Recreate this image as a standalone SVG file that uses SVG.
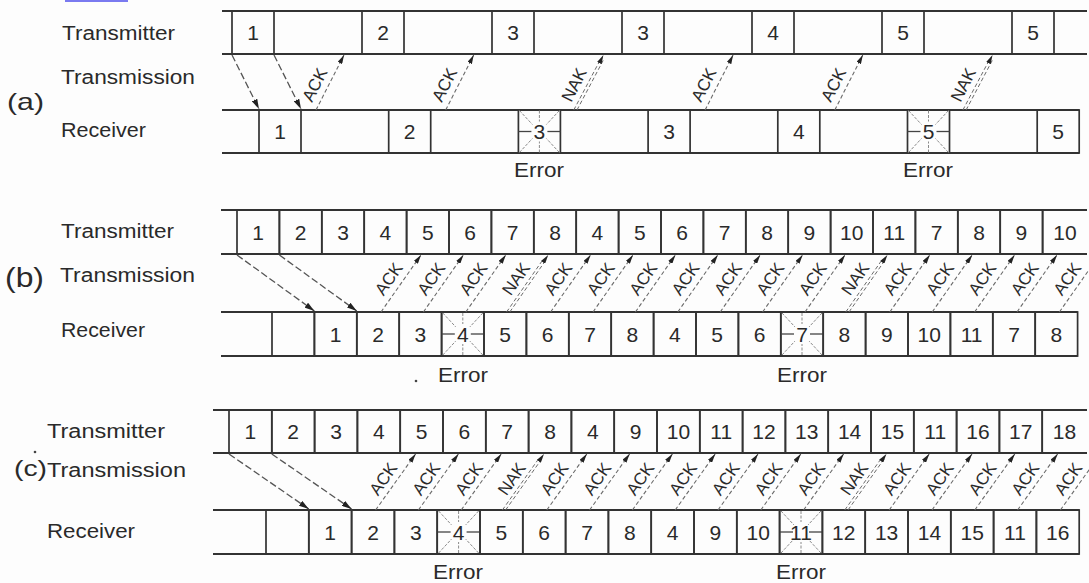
<svg xmlns="http://www.w3.org/2000/svg" xmlns:xlink="http://www.w3.org/1999/xlink" width="1089" height="583" viewBox="0 0 1089 583">
<style>
.ln{stroke:#333;stroke-width:2;fill:none}
.cell{stroke:#333;stroke-width:1.7;fill:none}
.num{font-family:"Liberation Sans",Arial,sans-serif;font-size:21px;fill:#2a2a2a;text-anchor:middle}
.lbl{font-family:"Liberation Sans",Arial,sans-serif;font-size:20px;fill:#2a2a2a}
.err{font-family:"Liberation Sans",Arial,sans-serif;font-size:20px;fill:#2a2a2a;text-anchor:middle}
.at{font-family:"Liberation Sans",Arial,sans-serif;font-size:17px;fill:#2a2a2a;text-anchor:middle;dominant-baseline:central}
.data{stroke:#555;stroke-width:1.3;stroke-dasharray:7 3;fill:none;marker-end:url(#ah)}
.ack{stroke:#6a6a6a;stroke-width:1.1;stroke-dasharray:4 2.5;fill:none;marker-end:url(#ah2)}
.nak{stroke:#6a6a6a;stroke-width:1;stroke-dasharray:4 2.5;fill:none}
.tip{stroke:none;fill:none;marker-end:url(#ah2)}
.ray{stroke:#8a8a8a;stroke-width:1;stroke-dasharray:3 1.5}
.rayd{stroke:#444;stroke-width:1.3}
</style>
<defs>
<marker id="ah" viewBox="0 0 10 6" refX="10" refY="3" markerWidth="10" markerHeight="6" markerUnits="userSpaceOnUse" orient="auto"><path d="M0,0 L10,3 L0,6 z" fill="#222"/></marker>
<marker id="ah2" viewBox="0 0 9 5" refX="9" refY="2.5" markerWidth="9" markerHeight="5" markerUnits="userSpaceOnUse" orient="auto"><path d="M0,0 L9,2.5 L0,5 z" fill="#222"/></marker>
<g id="rays">
<line class="ray" x1="-20" y1="-21" x2="-7" y2="-7"/>
<line class="ray" x1="20" y1="-21" x2="7" y2="-7"/>
<line class="ray" x1="-20" y1="21" x2="-7" y2="7"/>
<line class="ray" x1="20" y1="21" x2="7" y2="7"/>
<line class="ray" x1="0" y1="-21" x2="0" y2="-10"/>
<line class="ray" x1="0" y1="21" x2="0" y2="10"/>
<line class="rayd" x1="-21" y1="0" x2="-8" y2="0"/>
<line class="rayd" x1="21" y1="0" x2="8" y2="0"/>
</g>
</defs>
<rect width="1089" height="583" fill="#fdfdfd"/>
<rect x="65" y="0" width="63" height="2" fill="#7a7af0"/>
<circle cx="416" cy="381" r="1.3" fill="#444"/>
<circle cx="35" cy="452" r="1.3" fill="#444"/>

<g id="labels">
<text class="lbl" x="62" y="40" textLength="113" lengthAdjust="spacingAndGlyphs">Transmitter</text>
<text class="lbl" x="61" y="84" textLength="134" lengthAdjust="spacingAndGlyphs">Transmission</text>
<text class="lbl" x="7" y="110" style="font-size:24px" textLength="37" lengthAdjust="spacingAndGlyphs">(a)</text>
<text class="lbl" x="61" y="137" textLength="85" lengthAdjust="spacingAndGlyphs">Receiver</text>
<text class="lbl" x="61" y="238" textLength="113" lengthAdjust="spacingAndGlyphs">Transmitter</text>
<text class="lbl" x="5" y="287" style="font-size:27px" textLength="39" lengthAdjust="spacingAndGlyphs">(b)</text>
<text class="lbl" x="60" y="282" textLength="135" lengthAdjust="spacingAndGlyphs">Transmission</text>
<text class="lbl" x="61" y="337" textLength="84" lengthAdjust="spacingAndGlyphs">Receiver</text>
<text class="lbl" x="47" y="438" textLength="118" lengthAdjust="spacingAndGlyphs">Transmitter</text>
<text class="lbl" x="14" y="476" style="font-size:22px" textLength="33" lengthAdjust="spacingAndGlyphs">(c)</text>
<text class="lbl" x="47" y="477" textLength="139" lengthAdjust="spacingAndGlyphs">Transmission</text>
<text class="lbl" x="47" y="538" textLength="88" lengthAdjust="spacingAndGlyphs">Receiver</text>
<text class="err" x="539" y="177" textLength="50" lengthAdjust="spacingAndGlyphs">Error</text>
<text class="err" x="928" y="177" textLength="50" lengthAdjust="spacingAndGlyphs">Error</text>
<text class="err" x="463" y="382" textLength="50" lengthAdjust="spacingAndGlyphs">Error</text>
<text class="err" x="802" y="382" textLength="50" lengthAdjust="spacingAndGlyphs">Error</text>
<text class="err" x="458" y="579" textLength="50" lengthAdjust="spacingAndGlyphs">Error</text>
<text class="err" x="801" y="579" textLength="50" lengthAdjust="spacingAndGlyphs">Error</text>
</g>

<g id="a-tx">
<line class="ln" x1="222" y1="11" x2="1087" y2="11"/>
<line class="ln" x1="222" y1="54" x2="1087" y2="54"/>
<g id="a-tx-1"><rect class="cell" x="232" y="11" width="42" height="43"/><text class="num" x="253" y="40">1</text></g>
<g id="a-tx-2"><rect class="cell" x="362" y="11" width="42" height="43"/><text class="num" x="383" y="40">2</text></g>
<g id="a-tx-3"><rect class="cell" x="492" y="11" width="42" height="43"/><text class="num" x="513" y="40">3</text></g>
<g id="a-tx-4"><rect class="cell" x="622" y="11" width="42" height="43"/><text class="num" x="643" y="40">3</text></g>
<g id="a-tx-5"><rect class="cell" x="752" y="11" width="42" height="43"/><text class="num" x="773" y="40">4</text></g>
<g id="a-tx-6"><rect class="cell" x="882" y="11" width="42" height="43"/><text class="num" x="903" y="40">5</text></g>
<g id="a-tx-7"><rect class="cell" x="1012" y="11" width="42" height="43"/><text class="num" x="1033" y="40">5</text></g>
</g>
<g id="a-rx">
<line class="ln" x1="222" y1="110" x2="1079" y2="110"/>
<line class="ln" x1="222" y1="153" x2="1079" y2="153"/>
<g id="a-rx-1"><rect class="cell" x="259" y="110" width="42" height="43"/><text class="num" x="280" y="139">1</text></g>
<g id="a-rx-2"><rect class="cell" x="388.7" y="110" width="42" height="43"/><text class="num" x="409.7" y="139">2</text></g>
<g id="a-rx-3"><rect class="cell" x="518.4" y="110" width="42" height="43"/><use xlink:href="#rays" transform="translate(539.4,131.5)"/><text class="num" x="539.4" y="139">3</text></g>
<g id="a-rx-4"><rect class="cell" x="648.1" y="110" width="42" height="43"/><text class="num" x="669.1" y="139">3</text></g>
<g id="a-rx-5"><rect class="cell" x="777.8" y="110" width="42" height="43"/><text class="num" x="798.8" y="139">4</text></g>
<g id="a-rx-6"><rect class="cell" x="907.5" y="110" width="42" height="43"/><use xlink:href="#rays" transform="translate(928.5,131.5)"/><text class="num" x="928.5" y="139">5</text></g>
<g id="a-rx-7"><rect class="cell" x="1037.2" y="110" width="42" height="43"/><text class="num" x="1058.2" y="139">5</text></g>
</g>

<g id="b-tx">
<line class="ln" x1="221" y1="210" x2="1087" y2="210"/>
<line class="ln" x1="221" y1="254" x2="1087" y2="254"/>
<g id="b-tx-1"><rect class="cell" x="237" y="210" width="42.4" height="44"/><text class="num" x="258.2" y="239.5">1</text></g>
<g id="b-tx-2"><rect class="cell" x="279.4" y="210" width="42.4" height="44"/><text class="num" x="300.6" y="239.5">2</text></g>
<g id="b-tx-3"><rect class="cell" x="321.8" y="210" width="42.4" height="44"/><text class="num" x="343" y="239.5">3</text></g>
<g id="b-tx-4"><rect class="cell" x="364.2" y="210" width="42.4" height="44"/><text class="num" x="385.4" y="239.5">4</text></g>
<g id="b-tx-5"><rect class="cell" x="406.6" y="210" width="42.4" height="44"/><text class="num" x="427.8" y="239.5">5</text></g>
<g id="b-tx-6"><rect class="cell" x="449" y="210" width="42.4" height="44"/><text class="num" x="470.2" y="239.5">6</text></g>
<g id="b-tx-7"><rect class="cell" x="491.4" y="210" width="42.4" height="44"/><text class="num" x="512.6" y="239.5">7</text></g>
<g id="b-tx-8"><rect class="cell" x="533.8" y="210" width="42.4" height="44"/><text class="num" x="555" y="239.5">8</text></g>
<g id="b-tx-9"><rect class="cell" x="576.2" y="210" width="42.4" height="44"/><text class="num" x="597.4" y="239.5">4</text></g>
<g id="b-tx-10"><rect class="cell" x="618.6" y="210" width="42.4" height="44"/><text class="num" x="639.8" y="239.5">5</text></g>
<g id="b-tx-11"><rect class="cell" x="661" y="210" width="42.4" height="44"/><text class="num" x="682.2" y="239.5">6</text></g>
<g id="b-tx-12"><rect class="cell" x="703.4" y="210" width="42.4" height="44"/><text class="num" x="724.6" y="239.5">7</text></g>
<g id="b-tx-13"><rect class="cell" x="745.8" y="210" width="42.4" height="44"/><text class="num" x="767" y="239.5">8</text></g>
<g id="b-tx-14"><rect class="cell" x="788.2" y="210" width="42.4" height="44"/><text class="num" x="809.4" y="239.5">9</text></g>
<g id="b-tx-15"><rect class="cell" x="830.6" y="210" width="42.4" height="44"/><text class="num" x="851.8" y="239.5">10</text></g>
<g id="b-tx-16"><rect class="cell" x="873" y="210" width="42.4" height="44"/><text class="num" x="894.2" y="239.5">11</text></g>
<g id="b-tx-17"><rect class="cell" x="915.4" y="210" width="42.4" height="44"/><text class="num" x="936.6" y="239.5">7</text></g>
<g id="b-tx-18"><rect class="cell" x="957.8" y="210" width="42.4" height="44"/><text class="num" x="979" y="239.5">8</text></g>
<g id="b-tx-19"><rect class="cell" x="1000.2" y="210" width="42.4" height="44"/><text class="num" x="1021.4" y="239.5">9</text></g>
<g id="b-tx-20"><line class="cell" x1="1042.6" y1="210" x2="1042.6" y2="254"/><text class="num" x="1065" y="239.5">10</text></g>
</g>
<g id="b-rx">
<line class="ln" x1="221" y1="312" x2="1077.6" y2="312"/>
<line class="ln" x1="221" y1="356" x2="1077.6" y2="356"/>
<g id="b-rx-0"><rect class="cell" x="272" y="312" width="42.4" height="44"/></g>
<g id="b-rx-1"><rect class="cell" x="314.4" y="312" width="42.4" height="44"/><text class="num" x="335.6" y="341.5">1</text></g>
<g id="b-rx-2"><rect class="cell" x="356.8" y="312" width="42.4" height="44"/><text class="num" x="378" y="341.5">2</text></g>
<g id="b-rx-3"><rect class="cell" x="399.2" y="312" width="42.4" height="44"/><text class="num" x="420.4" y="341.5">3</text></g>
<g id="b-rx-4"><rect class="cell" x="441.6" y="312" width="42.4" height="44"/><use xlink:href="#rays" transform="translate(462.8,334)"/><text class="num" x="462.8" y="341.5">4</text></g>
<g id="b-rx-5"><rect class="cell" x="484" y="312" width="42.4" height="44"/><text class="num" x="505.2" y="341.5">5</text></g>
<g id="b-rx-6"><rect class="cell" x="526.4" y="312" width="42.4" height="44"/><text class="num" x="547.6" y="341.5">6</text></g>
<g id="b-rx-7"><rect class="cell" x="568.8" y="312" width="42.4" height="44"/><text class="num" x="590" y="341.5">7</text></g>
<g id="b-rx-8"><rect class="cell" x="611.2" y="312" width="42.4" height="44"/><text class="num" x="632.4" y="341.5">8</text></g>
<g id="b-rx-9"><rect class="cell" x="653.6" y="312" width="42.4" height="44"/><text class="num" x="674.8" y="341.5">4</text></g>
<g id="b-rx-10"><rect class="cell" x="696" y="312" width="42.4" height="44"/><text class="num" x="717.2" y="341.5">5</text></g>
<g id="b-rx-11"><rect class="cell" x="738.4" y="312" width="42.4" height="44"/><text class="num" x="759.6" y="341.5">6</text></g>
<g id="b-rx-12"><rect class="cell" x="780.8" y="312" width="42.4" height="44"/><use xlink:href="#rays" transform="translate(802,334)"/><text class="num" x="802" y="341.5">7</text></g>
<g id="b-rx-13"><rect class="cell" x="823.2" y="312" width="42.4" height="44"/><text class="num" x="844.4" y="341.5">8</text></g>
<g id="b-rx-14"><rect class="cell" x="865.6" y="312" width="42.4" height="44"/><text class="num" x="886.8" y="341.5">9</text></g>
<g id="b-rx-15"><rect class="cell" x="908" y="312" width="42.4" height="44"/><text class="num" x="929.2" y="341.5">10</text></g>
<g id="b-rx-16"><rect class="cell" x="950.4" y="312" width="42.4" height="44"/><text class="num" x="971.6" y="341.5">11</text></g>
<g id="b-rx-17"><rect class="cell" x="992.8" y="312" width="42.4" height="44"/><text class="num" x="1014" y="341.5">7</text></g>
<g id="b-rx-18"><rect class="cell" x="1035.2" y="312" width="42.4" height="44"/><text class="num" x="1056.4" y="341.5">8</text></g>
</g>

<g id="c-tx">
<line class="ln" x1="213" y1="410" x2="1087" y2="410"/>
<line class="ln" x1="213" y1="453" x2="1087" y2="453"/>
<g id="c-tx-1"><rect class="cell" x="229" y="410" width="42.8" height="43"/><text class="num" x="250.4" y="439">1</text></g>
<g id="c-tx-2"><rect class="cell" x="271.8" y="410" width="42.8" height="43"/><text class="num" x="293.2" y="439">2</text></g>
<g id="c-tx-3"><rect class="cell" x="314.6" y="410" width="42.8" height="43"/><text class="num" x="336" y="439">3</text></g>
<g id="c-tx-4"><rect class="cell" x="357.4" y="410" width="42.8" height="43"/><text class="num" x="378.8" y="439">4</text></g>
<g id="c-tx-5"><rect class="cell" x="400.2" y="410" width="42.8" height="43"/><text class="num" x="421.6" y="439">5</text></g>
<g id="c-tx-6"><rect class="cell" x="443" y="410" width="42.8" height="43"/><text class="num" x="464.4" y="439">6</text></g>
<g id="c-tx-7"><rect class="cell" x="485.8" y="410" width="42.8" height="43"/><text class="num" x="507.2" y="439">7</text></g>
<g id="c-tx-8"><rect class="cell" x="528.6" y="410" width="42.8" height="43"/><text class="num" x="550" y="439">8</text></g>
<g id="c-tx-9"><rect class="cell" x="571.4" y="410" width="42.8" height="43"/><text class="num" x="592.8" y="439">4</text></g>
<g id="c-tx-10"><rect class="cell" x="614.2" y="410" width="42.8" height="43"/><text class="num" x="635.6" y="439">9</text></g>
<g id="c-tx-11"><rect class="cell" x="657" y="410" width="42.8" height="43"/><text class="num" x="678.4" y="439">10</text></g>
<g id="c-tx-12"><rect class="cell" x="699.8" y="410" width="42.8" height="43"/><text class="num" x="721.2" y="439">11</text></g>
<g id="c-tx-13"><rect class="cell" x="742.6" y="410" width="42.8" height="43"/><text class="num" x="764" y="439">12</text></g>
<g id="c-tx-14"><rect class="cell" x="785.4" y="410" width="42.8" height="43"/><text class="num" x="806.8" y="439">13</text></g>
<g id="c-tx-15"><rect class="cell" x="828.2" y="410" width="42.8" height="43"/><text class="num" x="849.6" y="439">14</text></g>
<g id="c-tx-16"><rect class="cell" x="871" y="410" width="42.8" height="43"/><text class="num" x="892.4" y="439">15</text></g>
<g id="c-tx-17"><rect class="cell" x="913.8" y="410" width="42.8" height="43"/><text class="num" x="935.2" y="439">11</text></g>
<g id="c-tx-18"><rect class="cell" x="956.6" y="410" width="42.8" height="43"/><text class="num" x="978" y="439">16</text></g>
<g id="c-tx-19"><rect class="cell" x="999.4" y="410" width="42.8" height="43"/><text class="num" x="1020.8" y="439">17</text></g>
<g id="c-tx-20"><line class="cell" x1="1042.2" y1="410" x2="1042.2" y2="453"/><text class="num" x="1064.5" y="439">18</text></g>
</g>
<g id="c-rx">
<line class="ln" x1="213" y1="510" x2="1079.2" y2="510"/>
<line class="ln" x1="213" y1="554" x2="1079.2" y2="554"/>
<g id="c-rx-0"><rect class="cell" x="266" y="510" width="42.8" height="44"/></g>
<g id="c-rx-1"><rect class="cell" x="308.8" y="510" width="42.8" height="44"/><text class="num" x="330.2" y="539.5">1</text></g>
<g id="c-rx-2"><rect class="cell" x="351.6" y="510" width="42.8" height="44"/><text class="num" x="373" y="539.5">2</text></g>
<g id="c-rx-3"><rect class="cell" x="394.4" y="510" width="42.8" height="44"/><text class="num" x="415.8" y="539.5">3</text></g>
<g id="c-rx-4"><rect class="cell" x="437.2" y="510" width="42.8" height="44"/><use xlink:href="#rays" transform="translate(458.6,532)"/><text class="num" x="458.6" y="539.5">4</text></g>
<g id="c-rx-5"><rect class="cell" x="480" y="510" width="42.8" height="44"/><text class="num" x="501.4" y="539.5">5</text></g>
<g id="c-rx-6"><rect class="cell" x="522.8" y="510" width="42.8" height="44"/><text class="num" x="544.2" y="539.5">6</text></g>
<g id="c-rx-7"><rect class="cell" x="565.6" y="510" width="42.8" height="44"/><text class="num" x="587" y="539.5">7</text></g>
<g id="c-rx-8"><rect class="cell" x="608.4" y="510" width="42.8" height="44"/><text class="num" x="629.8" y="539.5">8</text></g>
<g id="c-rx-9"><rect class="cell" x="651.2" y="510" width="42.8" height="44"/><text class="num" x="672.6" y="539.5">4</text></g>
<g id="c-rx-10"><rect class="cell" x="694" y="510" width="42.8" height="44"/><text class="num" x="715.4" y="539.5">9</text></g>
<g id="c-rx-11"><rect class="cell" x="736.8" y="510" width="42.8" height="44"/><text class="num" x="758.2" y="539.5">10</text></g>
<g id="c-rx-12"><rect class="cell" x="779.6" y="510" width="42.8" height="44"/><use xlink:href="#rays" transform="translate(801,532)"/><text class="num" x="801" y="539.5">11</text></g>
<g id="c-rx-13"><rect class="cell" x="822.4" y="510" width="42.8" height="44"/><text class="num" x="843.8" y="539.5">12</text></g>
<g id="c-rx-14"><rect class="cell" x="865.2" y="510" width="42.8" height="44"/><text class="num" x="886.6" y="539.5">13</text></g>
<g id="c-rx-15"><rect class="cell" x="908" y="510" width="42.8" height="44"/><text class="num" x="929.4" y="539.5">14</text></g>
<g id="c-rx-16"><rect class="cell" x="950.8" y="510" width="42.8" height="44"/><text class="num" x="972.2" y="539.5">15</text></g>
<g id="c-rx-17"><rect class="cell" x="993.6" y="510" width="42.8" height="44"/><text class="num" x="1015" y="539.5">11</text></g>
<g id="c-rx-18"><rect class="cell" x="1036.4" y="510" width="42.8" height="44"/><text class="num" x="1057.8" y="539.5">16</text></g>
</g>

<g id="connectors">
<line class="data" x1="232" y1="55" x2="259" y2="109"/>
<line class="data" x1="274" y1="55" x2="301" y2="109"/>
<line class="data" x1="237" y1="255" x2="314.4" y2="311"/>
<line class="data" x1="279.4" y1="255" x2="356.8" y2="311"/>
<line class="data" x1="229" y1="454" x2="308.8" y2="509"/>
<line class="data" x1="271.8" y1="454" x2="351.6" y2="509"/>

<line class="ack" x1="316" y1="110" x2="344" y2="55"/><text class="at" transform="translate(315,85) rotate(-63)">ACK</text>
<line class="ack" x1="445.7" y1="110" x2="473.7" y2="55"/><text class="at" transform="translate(444.7,85) rotate(-63)">ACK</text>
<line class="nak" x1="573.8" y1="110" x2="600.2" y2="60"/><line class="nak" x1="577" y1="110" x2="603.4" y2="60"/><line class="tip" x1="575.4" y1="110" x2="603.4" y2="55"/><text class="at" transform="translate(574.4,85) rotate(-63)">NAK</text>
<line class="ack" x1="705.1" y1="110" x2="733.1" y2="55"/><text class="at" transform="translate(704.1,85) rotate(-63)">ACK</text>
<line class="ack" x1="834.8" y1="110" x2="862.8" y2="55"/><text class="at" transform="translate(833.8,85) rotate(-63)">ACK</text>
<line class="nak" x1="962.9" y1="110" x2="989.3" y2="60"/><line class="nak" x1="966.1" y1="110" x2="992.5" y2="60"/><line class="tip" x1="964.5" y1="110" x2="992.5" y2="55"/><text class="at" transform="translate(963.5,85) rotate(-63)">NAK</text>

<line class="ack" x1="381" y1="312" x2="421" y2="255"/><text class="at" transform="translate(389,279) rotate(-55)">ACK</text>
<line class="ack" x1="423.4" y1="312" x2="463.4" y2="255"/><text class="at" transform="translate(431.4,279) rotate(-55)">ACK</text>
<line class="ack" x1="465.8" y1="312" x2="505.8" y2="255"/><text class="at" transform="translate(473.8,279) rotate(-55)">ACK</text>
<line class="nak" x1="506.6" y1="312" x2="543.4" y2="259"/><line class="nak" x1="509.8" y1="312" x2="546.6" y2="259"/><line class="tip" x1="508.2" y1="312" x2="548.2" y2="255"/><text class="at" transform="translate(516.2,279) rotate(-55)">NAK</text>
<line class="ack" x1="550.6" y1="312" x2="590.6" y2="255"/><text class="at" transform="translate(558.6,279) rotate(-55)">ACK</text>
<line class="ack" x1="593" y1="312" x2="633" y2="255"/><text class="at" transform="translate(601,279) rotate(-55)">ACK</text>
<line class="ack" x1="635.4" y1="312" x2="675.4" y2="255"/><text class="at" transform="translate(643.4,279) rotate(-55)">ACK</text>
<line class="ack" x1="677.8" y1="312" x2="717.8" y2="255"/><text class="at" transform="translate(685.8,279) rotate(-55)">ACK</text>
<line class="ack" x1="720.2" y1="312" x2="760.2" y2="255"/><text class="at" transform="translate(728.2,279) rotate(-55)">ACK</text>
<line class="ack" x1="762.6" y1="312" x2="802.6" y2="255"/><text class="at" transform="translate(770.6,279) rotate(-55)">ACK</text>
<line class="ack" x1="805" y1="312" x2="845" y2="255"/><text class="at" transform="translate(813,279) rotate(-55)">ACK</text>
<line class="nak" x1="845.8" y1="312" x2="882.6" y2="259"/><line class="nak" x1="849" y1="312" x2="885.8" y2="259"/><line class="tip" x1="847.4" y1="312" x2="887.4" y2="255"/><text class="at" transform="translate(855.4,279) rotate(-55)">NAK</text>
<line class="ack" x1="889.8" y1="312" x2="929.8" y2="255"/><text class="at" transform="translate(897.8,279) rotate(-55)">ACK</text>
<line class="ack" x1="932.2" y1="312" x2="972.2" y2="255"/><text class="at" transform="translate(940.2,279) rotate(-55)">ACK</text>
<line class="ack" x1="974.6" y1="312" x2="1014.6" y2="255"/><text class="at" transform="translate(982.6,279) rotate(-55)">ACK</text>
<line class="ack" x1="1017" y1="312" x2="1057" y2="255"/><text class="at" transform="translate(1025,279) rotate(-55)">ACK</text>
<line class="ack" x1="1059.4" y1="312" x2="1099.4" y2="255"/><text class="at" transform="translate(1067.4,279) rotate(-55)">ACK</text>

<line class="ack" x1="375.6" y1="510" x2="415.6" y2="454"/><text class="at" transform="translate(383.6,479) rotate(-55)">ACK</text>
<line class="ack" x1="418.4" y1="510" x2="458.4" y2="454"/><text class="at" transform="translate(426.4,479) rotate(-55)">ACK</text>
<line class="ack" x1="461.2" y1="510" x2="501.2" y2="454"/><text class="at" transform="translate(469.2,479) rotate(-55)">ACK</text>
<line class="nak" x1="502.4" y1="510" x2="539.2" y2="458"/><line class="nak" x1="505.6" y1="510" x2="542.4" y2="458"/><line class="tip" x1="504" y1="510" x2="544" y2="454"/><text class="at" transform="translate(512,479) rotate(-55)">NAK</text>
<line class="ack" x1="546.8" y1="510" x2="586.8" y2="454"/><text class="at" transform="translate(554.8,479) rotate(-55)">ACK</text>
<line class="ack" x1="589.6" y1="510" x2="629.6" y2="454"/><text class="at" transform="translate(597.6,479) rotate(-55)">ACK</text>
<line class="ack" x1="632.4" y1="510" x2="672.4" y2="454"/><text class="at" transform="translate(640.4,479) rotate(-55)">ACK</text>
<line class="ack" x1="675.2" y1="510" x2="715.2" y2="454"/><text class="at" transform="translate(683.2,479) rotate(-55)">ACK</text>
<line class="ack" x1="718" y1="510" x2="758" y2="454"/><text class="at" transform="translate(726,479) rotate(-55)">ACK</text>
<line class="ack" x1="760.8" y1="510" x2="800.8" y2="454"/><text class="at" transform="translate(768.8,479) rotate(-55)">ACK</text>
<line class="ack" x1="803.6" y1="510" x2="843.6" y2="454"/><text class="at" transform="translate(811.6,479) rotate(-55)">ACK</text>
<line class="nak" x1="844.8" y1="510" x2="881.6" y2="458"/><line class="nak" x1="848" y1="510" x2="884.8" y2="458"/><line class="tip" x1="846.4" y1="510" x2="886.4" y2="454"/><text class="at" transform="translate(854.4,479) rotate(-55)">NAK</text>
<line class="ack" x1="889.2" y1="510" x2="929.2" y2="454"/><text class="at" transform="translate(897.2,479) rotate(-55)">ACK</text>
<line class="ack" x1="932" y1="510" x2="972" y2="454"/><text class="at" transform="translate(940,479) rotate(-55)">ACK</text>
<line class="ack" x1="974.8" y1="510" x2="1014.8" y2="454"/><text class="at" transform="translate(982.8,479) rotate(-55)">ACK</text>
<line class="ack" x1="1017.6" y1="510" x2="1057.6" y2="454"/><text class="at" transform="translate(1025.6,479) rotate(-55)">ACK</text>
<line class="ack" x1="1060.4" y1="510" x2="1100.4" y2="454"/><text class="at" transform="translate(1068.4,479) rotate(-55)">ACK</text>
</g>
</svg>
